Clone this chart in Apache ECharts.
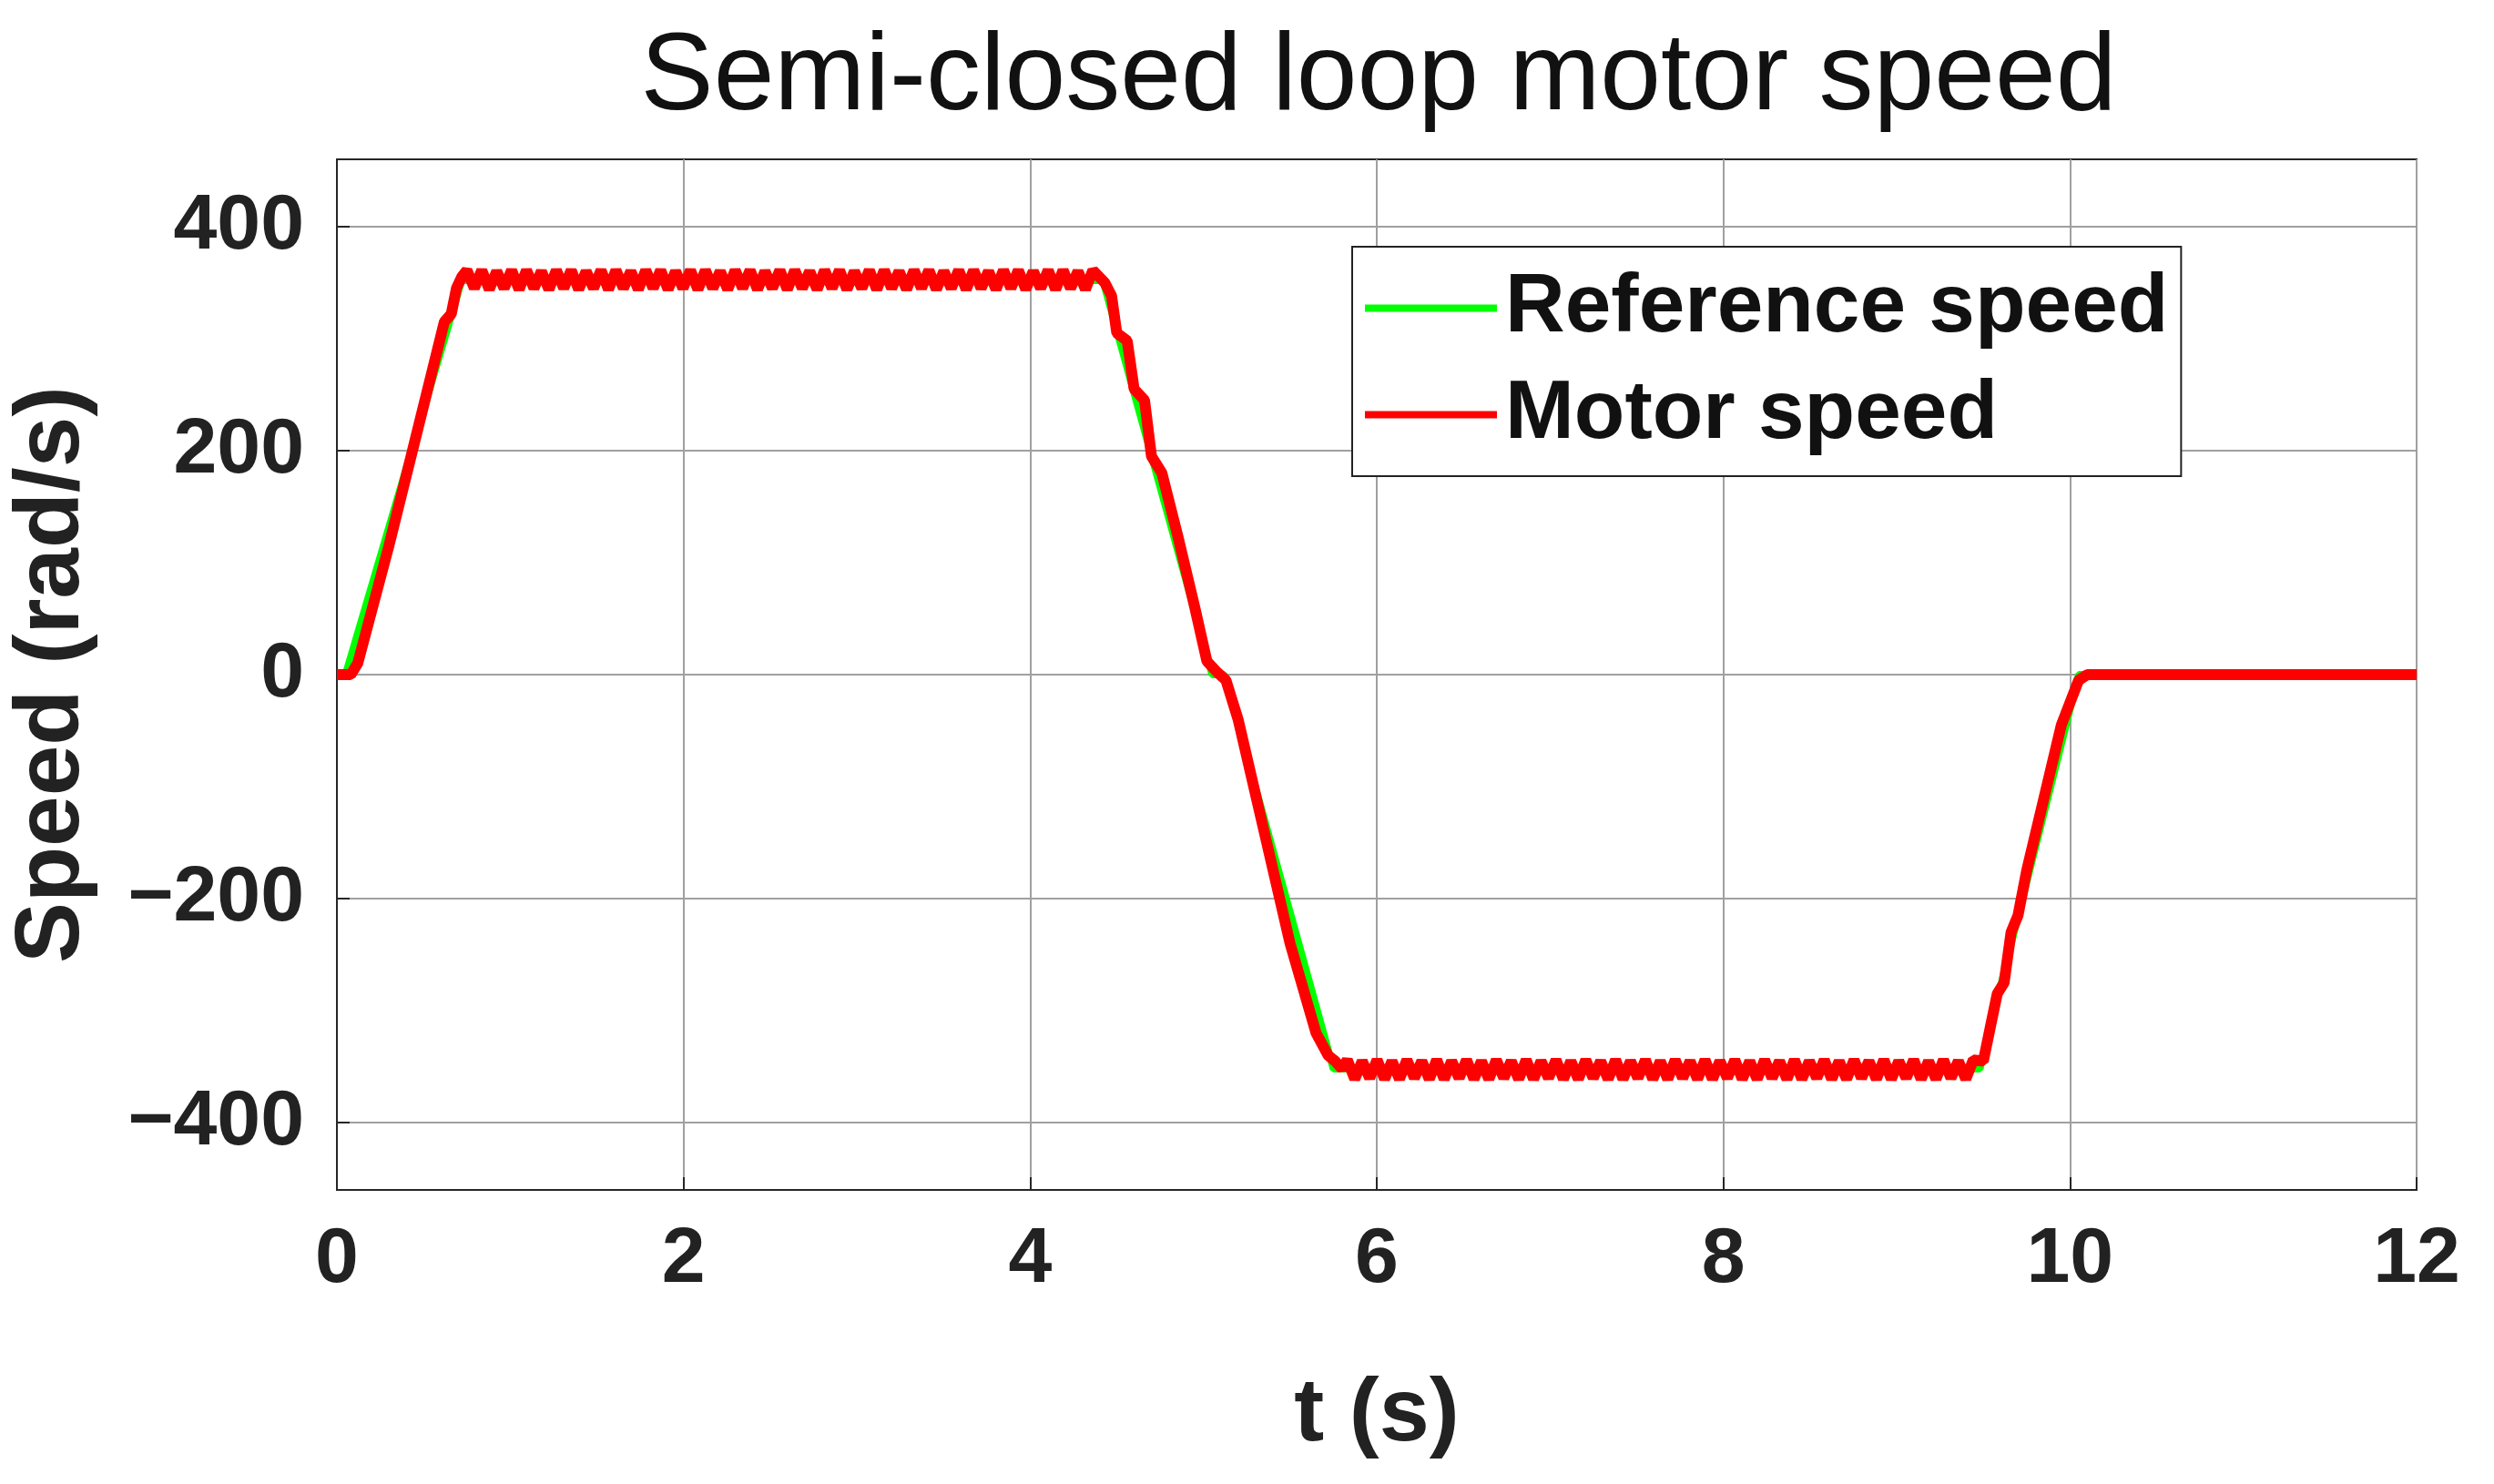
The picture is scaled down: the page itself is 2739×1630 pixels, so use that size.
<!DOCTYPE html>
<html><head><meta charset="utf-8">
<script src="https://cdn.jsdelivr.net/npm/echarts@6/dist/echarts.min.js"></script>
<style>html,body{margin:0;padding:0;background:#fff}#c{width:2739px;height:1630px}</style>
</head><body><div id="c"></div>
<script>
const titleText = 'Semi-closed loop motor speed';
const xTicks = [0,2,4,6,8,10,12];
const yTicks = [-400,-200,0,200,400];
const refT = [0,0.05,0.72,4.42,5.05,5.12,5.75,9.48,10.05,12];
const refV = [0,0,352,352,0,0,-352,-352,0,0];
const motorRiseT = [0,0.08,0.12,0.3,0.5,0.62,0.66,0.69,0.72];
const motorRiseV = [0,0,10,115,240,315,322,345,355];
const plateauHi = [361,345,361,344,360,345,361,344,361,345,360,344,361,345,361,344,360,345,361,344,361,345,360,344,361,345,361,344,360,345,361,344,361,345,360,344,361,345,361,344,360,345,361,344,361,345,360,344,361,345,361,344,360,345,361,344,361,345,360,344,361,345,361,344,360,345,361,344,361,345,360,344,361,345,361,344,360,345,361,344,361,345,360,344,361];
const motorFallT = [4.43,4.47,4.5,4.56,4.6,4.66,4.7,4.76,4.85,4.95,5.02,5.08,5.13,5.2,5.35,5.5,5.65,5.72,5.76,5.8];
const motorFallV = [350,338,305,298,255,245,195,180,125,60,12,2,-5,-40,-140,-240,-320,-340,-345,-352];
const plateauLo = [-344,-361,-345,-360,-344,-361,-345,-361,-344,-360,-345,-361,-344,-361,-345,-360,-344,-361,-345,-361,-344,-360,-345,-361,-344,-361,-345,-360,-344,-361,-345,-361,-344,-360,-345,-361,-344,-361,-345,-360,-344,-361,-345,-361,-344,-360,-345,-361,-344,-361,-345,-360,-344,-361,-345,-361,-344,-360,-345,-361,-344,-361,-345,-360,-344,-361,-345,-361,-344,-360,-345,-361,-344,-361,-345,-360,-344,-361,-345,-361,-344,-360,-345,-361,-344];
const motorRecT = [9.5,9.54,9.58,9.62,9.66,9.7,9.75,9.85,9.95,10.05,10.1,12];
const motorRecV = [-345,-315,-285,-275,-230,-215,-175,-110,-45,-5,0,0];

const dt = 0.043;
const refData = refT.map((t,i)=>[t,refV[i]]);
const motor = [];
motorRiseT.forEach((t,i)=>motor.push([t,motorRiseV[i]]));
plateauHi.forEach((v,i)=>motor.push([0.75+i*dt,v]));
motorFallT.forEach((t,i)=>motor.push([t,motorFallV[i]]));
plateauLo.forEach((v,i)=>motor.push([5.83+i*dt,v]));
motorRecT.forEach((t,i)=>motor.push([t,motorRecV[i]]));

const F = 'Liberation Sans, Arial, sans-serif';
const fmt = v => String(v).replace('-', '\u2212');
const chart = echarts.init(document.getElementById('c'));
chart.setOption({
  animation:false,
  backgroundColor:'#fff',
  title:{text:titleText,left:1509,top:22,textAlign:'center',textStyle:{fontFamily:F,fontWeight:'normal',fontSize:120,color:'#111'}},
  legend:{left:1485,top:271,orient:'vertical',itemWidth:145,itemHeight:8,itemGap:26,padding:[22,14,22,14],
    backgroundColor:'#fff',borderColor:'#222',borderWidth:2,
    textStyle:{fontFamily:F,fontWeight:'bold',fontSize:91,color:'#111',padding:[0,0,0,4]},
    icon:'rect',data:['Reference speed','Motor speed']},
  grid:{left:365,right:85,top:175,bottom:323,show:true,borderColor:'#262626',borderWidth:2},
  xAxis:{type:'value',min:0,max:12,interval:2,name:'t (s)',nameLocation:'middle',nameGap:198,
    nameTextStyle:{fontFamily:F,fontWeight:'bold',fontSize:99,color:'#222'},
    axisLine:{onZero:false,lineStyle:{color:'#262626',width:2}},axisTick:{inside:true,length:14,lineStyle:{color:'#262626',width:2}},
    axisLabel:{fontFamily:F,fontWeight:'bold',fontSize:86,color:'#222',margin:34,formatter:fmt},
    splitLine:{show:true,lineStyle:{color:'#a0a0a0',width:2}}},
  yAxis:{type:'value',min:-460,max:460,name:'Speed (rad/s)',nameLocation:'middle',nameGap:262,
    nameTextStyle:{fontFamily:F,fontWeight:'bold',fontSize:100,color:'#222'},
    axisLine:{onZero:false,lineStyle:{color:'#262626',width:2}},
    axisTick:{inside:true,length:14,customValues:yTicks,lineStyle:{color:'#262626',width:2}},
    axisLabel:{fontFamily:F,fontWeight:'bold',fontSize:86,color:'#222',margin:36,customValues:yTicks,formatter:fmt},
    splitLine:{show:false}},
  series:[
    {name:'Reference speed',type:'line',data:refData,showSymbol:false,symbol:'none',lineStyle:{color:'#00ff00',width:8},itemStyle:{color:'#00ff00'},
     markLine:{silent:true,symbol:'none',label:{show:false},lineStyle:{color:'#a0a0a0',width:2,type:'solid'},data:yTicks.map(v=>({yAxis:v})),z:0}},
    {name:'Motor speed',type:'line',data:motor,showSymbol:false,symbol:'none',lineStyle:{color:'#ff0000',width:12},itemStyle:{color:'#ff0000'}}
  ]
});
</script></body></html>
